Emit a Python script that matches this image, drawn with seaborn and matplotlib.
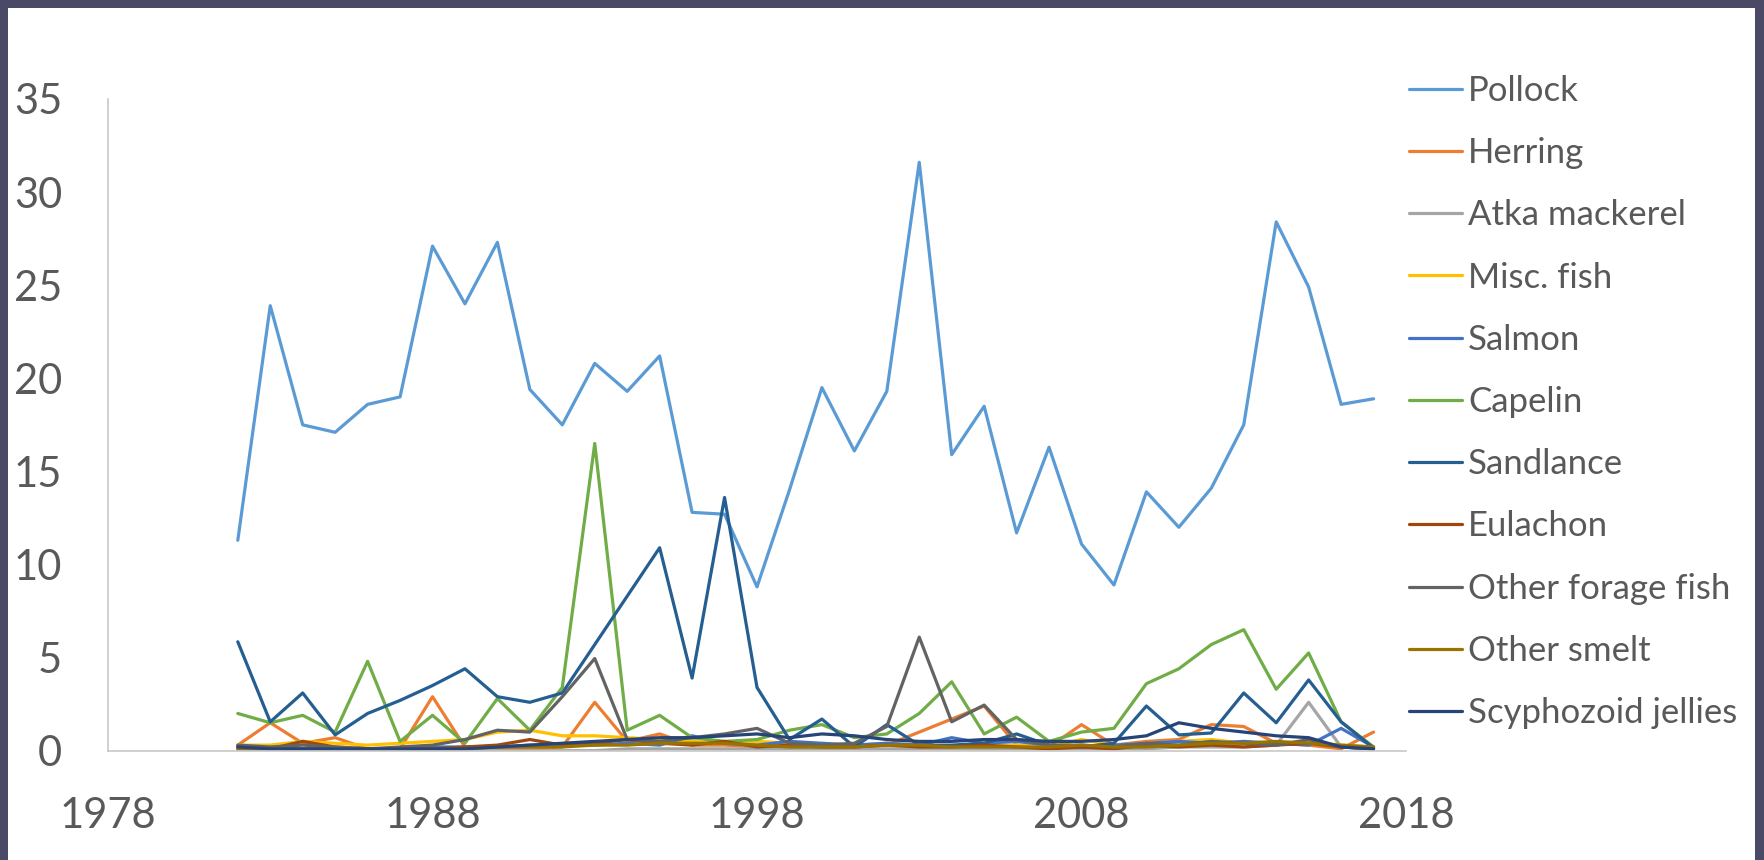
import numpy as np
import pandas as pd
import matplotlib
matplotlib.use("Agg")
import matplotlib.pyplot as plt
from matplotlib.patches import Rectangle
import seaborn as sns

years = list(range(1982, 2018))

pollock = [11.3, 23.9, 17.5, 17.1, 18.6, 19.0, 27.1, 24.0, 27.3, 19.4, 17.5, 20.8,
           19.3, 21.2, 12.8, 12.7, 8.8, 14.0, 19.5, 16.1, 19.3, 31.6, 15.9, 18.5,
           11.7, 16.3, 11.1, 8.9, 13.9, 12.0, 14.1, 17.5, 28.4, 24.9, 18.6, 18.9]
herring = [0.3, 1.5, 0.4, 0.7, 0.1, 0.1, 2.9, 0.2, 0.1, 0.1, 0.2, 2.6,
           0.5, 0.9, 0.3, 0.3, 0.2, 0.2, 0.2, 0.3, 0.3, 1.0, 1.7, 2.4,
           0.3, 0.2, 1.4, 0.3, 0.5, 0.6, 1.4, 1.3, 0.4, 0.3, 0.1, 1.0]
atka = [0.0, 0.0, 0.0, 0.0, 0.0, 0.0, 0.0, 0.0, 0.0, 0.0, 0.0, 0.0,
        0.1, 0.1, 0.1, 0.1, 0.1, 0.1, 0.1, 0.1, 0.1, 0.1, 0.1, 0.1,
        0.1, 0.1, 0.1, 0.1, 0.1, 0.2, 0.2, 0.2, 0.3, 2.6, 0.2, 0.1]
misc_fish = [0.3, 0.3, 0.5, 0.4, 0.3, 0.4, 0.5, 0.6, 1.0, 1.1, 0.8, 0.8,
             0.7, 0.6, 0.5, 0.4, 0.5, 0.4, 0.3, 0.3, 0.4, 0.3, 0.2, 0.3,
             0.3, 0.2, 0.6, 0.3, 0.4, 0.5, 0.6, 0.4, 0.3, 0.5, 0.3, 0.2]
salmon = [0.1, 0.1, 0.1, 0.1, 0.1, 0.1, 0.2, 0.2, 0.2, 0.3, 0.3, 0.3,
          0.4, 0.3, 0.8, 0.4, 0.3, 0.5, 0.4, 0.3, 0.4, 0.3, 0.7, 0.4,
          0.5, 0.3, 0.2, 0.3, 0.4, 0.5, 0.4, 0.5, 0.4, 0.3, 1.2, 0.2]
capelin = [2.0, 1.5, 1.9, 1.0, 4.8, 0.5, 1.9, 0.4, 2.8, 1.1, 3.4, 16.5,
           1.1, 1.9, 0.7, 0.5, 0.6, 1.1, 1.4, 0.7, 0.9, 2.0, 3.7, 0.9,
           1.8, 0.5, 1.0, 1.2, 3.6, 4.4, 5.7, 6.5, 3.3, 5.25, 1.55, 0.2]
sandlance = [5.85, 1.55, 3.1, 0.85, 2.0, 2.7, 3.5, 4.4, 2.9, 2.6, 3.1, 5.7,
             8.3, 10.9, 3.9, 13.6, 3.4, 0.6, 1.7, 0.2, 1.4, 0.3, 0.3, 0.4,
             0.9, 0.3, 0.2, 0.4, 2.4, 0.85, 0.95, 3.1, 1.5, 3.8, 1.55, 0.15]
eulachon = [0.2, 0.1, 0.5, 0.2, 0.1, 0.1, 0.1, 0.2, 0.3, 0.6, 0.3, 0.4,
            0.6, 0.4, 0.3, 0.5, 0.2, 0.3, 0.2, 0.2, 0.3, 0.2, 0.2, 0.3,
            0.2, 0.1, 0.2, 0.1, 0.3, 0.2, 0.3, 0.2, 0.3, 0.4, 0.2, 0.1]
other_forage = [0.3, 0.2, 0.3, 0.2, 0.1, 0.2, 0.3, 0.6, 1.1, 1.0, 2.9, 4.95,
                0.6, 0.5, 0.7, 0.9, 1.2, 0.4, 0.3, 0.4, 1.3, 6.1, 1.55, 2.45,
                0.6, 0.3, 0.3, 0.2, 0.4, 0.3, 0.5, 0.4, 0.3, 0.6, 0.2, 0.1]
other_smelt = [0.1, 0.1, 0.1, 0.1, 0.1, 0.1, 0.1, 0.1, 0.2, 0.2, 0.2, 0.3,
               0.3, 0.4, 0.4, 0.4, 0.3, 0.2, 0.2, 0.2, 0.3, 0.3, 0.2, 0.2,
               0.2, 0.2, 0.3, 0.2, 0.2, 0.3, 0.4, 0.4, 0.5, 0.4, 0.3, 0.2]
jellies = [0.2, 0.1, 0.1, 0.1, 0.1, 0.1, 0.1, 0.1, 0.2, 0.3, 0.4, 0.5,
           0.6, 0.7, 0.7, 0.8, 0.9, 0.7, 0.9, 0.8, 0.6, 0.5, 0.5, 0.6,
           0.6, 0.5, 0.5, 0.6, 0.8, 1.5, 1.2, 1.0, 0.8, 0.7, 0.2, 0.1]

species = ["Pollock", "Herring", "Atka mackerel", "Misc. fish", "Salmon", "Capelin",
           "Sandlance", "Eulachon", "Other forage fish", "Other smelt",
           "Scyphozoid jellies"]
series = [pollock, herring, atka, misc_fish, salmon, capelin, sandlance,
          eulachon, other_forage, other_smelt, jellies]
colors = ["#5B9BD5", "#ED7D31", "#A5A5A5", "#FFC000", "#4472C4", "#70AD47",
          "#255E91", "#9E480E", "#636363", "#997300", "#264478"]

x_ticks = [1978, 1988, 1998, 2008, 2018]
y_ticks = [0, 5, 10, 15, 20, 25, 30, 35]

df = pd.concat(
    [pd.DataFrame({"Year": years, "Value": vals, "Species": name})
     for name, vals in zip(species, series)],
    ignore_index=True,
)

sns.set_theme(style="white")
plt.rcParams["font.family"] = ["Lato", "DejaVu Sans"]

W, H = 1765, 860
fig = plt.figure(figsize=(W / 100, H / 100), dpi=100, facecolor="#4a4a66")
# white card inside the dark frame
fig.patches.append(Rectangle((8 / W, 0), 1 - 18 / W, 1 - 8 / H,
                             transform=fig.transFigure, facecolor="white",
                             edgecolor="none", zorder=-10))

ax = fig.add_axes([108 / W, 1 - 750.7 / H, (1406 - 108) / W, (750.7 - 99) / H])
ax.set_facecolor("none")

sns.lineplot(data=df, x="Year", y="Value", hue="Species", hue_order=species,
             palette=dict(zip(species, colors)), linewidth=2.3, ax=ax,
             estimator=None, sort=True)

ax.set_xlim(1978, 2018)
ax.set_ylim(0, 35)
ax.set_xticks(x_ticks)
ax.set_yticks(y_ticks)
ax.set_xlabel("")
ax.set_ylabel("")
ax.tick_params(axis="both", length=0, labelsize=30, labelcolor="#595959")
ax.tick_params(axis="x", pad=33)
ax.tick_params(axis="y", pad=33)
for side in ["top", "right"]:
    ax.spines[side].set_visible(False)
for side in ["left", "bottom"]:
    ax.spines[side].set_color("#c8c8c8")
    ax.spines[side].set_linewidth(1.2)

handles, labels = ax.get_legend_handles_labels()
ax.get_legend().remove()
leg = fig.legend(handles, labels, loc="upper left",
                 bbox_to_anchor=(1409 / W, 1 - 75 / H),
                 frameon=False, fontsize=25, handlelength=1.53,
                 handletextpad=0.17, labelspacing=0.87, borderpad=0,
                 borderaxespad=0, labelcolor="#595959")
for line in leg.get_lines():
    line.set_linewidth(2.3)

fig.savefig("out.png", dpi=100, facecolor=fig.get_facecolor())
